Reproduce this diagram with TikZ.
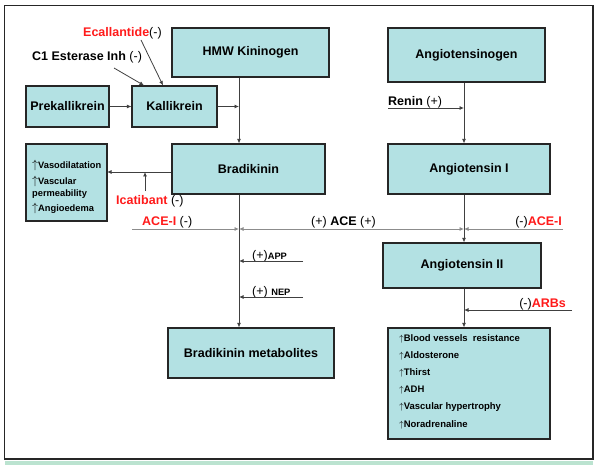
\documentclass[tikz,border=0pt]{standalone}
\usepackage{fontspec}
\setmainfont{Liberation Sans}
\usepackage{tikz}
\usetikzlibrary{positioning,arrows.meta}
\definecolor{boxfill}{HTML}{B3E1E3}
\definecolor{stripfill}{HTML}{BBE3D0}
\definecolor{inhred}{HTML}{FF1A1A}
\tikzset{
box/.style={rectangle, draw=black!85, line width=1.1pt, fill=boxfill, inner sep=0pt, font=\bfseries\fontsize{12.5}{15}\selectfont},
effect/.style={rectangle, draw=black!85, line width=1.1pt, fill=boxfill, inner sep=0pt},
lbl/.style={inner sep=0pt, font=\bfseries\fontsize{12.5}{15}\selectfont},
connect/.style={->, >={Latex[length=4.5pt,width=4pt]}, line width=0.8pt, draw=black!75},
aceline/.style={connect, draw=black!45}
}
\newcommand{\inh}[1]{\textcolor{inhred}{#1}}
\newcommand{\sgn}[1]{{\mdseries(#1)}}
\newcommand{\incr}{$\uparrow$}

\begin{document}
\begin{tikzpicture}[x=1pt,y=-1pt]
        \useasboundingbox (0,0) rectangle (599,465);
        \fill[stripfill] (5,461) rectangle (593,465);
        \draw[line width=1.6pt, black!85] (4.5,5.7) rectangle (593,459);

        % kinin side
        \node[box, minimum width=157pt, minimum height=49pt] (hmw) at (250.5,52.5) {HMW Kininogen};
        \node[box, minimum width=83pt, minimum height=41pt] (prekal) at (67.5,106.5) {Prekallikrein};
        \node[box, minimum width=85pt, minimum height=41pt] (kal) at (174.5,106.5) {Kallikrein};
        \node[box, minimum width=153pt, minimum height=50pt] (bk) at (248.5,169) {Bradikinin};
        \node[box, minimum width=166pt, minimum height=50pt] (bkmet) at (251,353) {Bradikinin metabolites};
        \node[effect, minimum width=81pt, minimum height=77pt] (bkeff) at (66.5,182.5) {};
        \node[anchor=north west, inner sep=0pt, align=left, font=\bfseries\fontsize{9.3}{12}\selectfont] (bkefftxt) at (32,159.5)
            {{\fontsize{12}{12}\selectfont\incr}Vasodilatation\\[4pt]
             {\fontsize{12}{12}\selectfont\incr}Vascular\\
             permeability\\[3pt]
             {\fontsize{12}{12}\selectfont\incr}Angioedema};

        % angiotensin side
        \node[box, minimum width=157pt, minimum height=54pt] (agen) at (466.5,55) {Angiotensinogen};
        \node[box, minimum width=162pt, minimum height=50pt] (ang1) at (469,169) {Angiotensin I};
        \node[box, minimum width=158pt, minimum height=45pt] (ang2) at (462,265.5) {Angiotensin II};
        \node[effect, minimum width=162pt, minimum height=111pt] (angeff) at (469,383.5) {};
        \node[anchor=north west, inner sep=0pt, align=left, font=\bfseries\fontsize{9.5}{17.2}\selectfont] (angefftxt) at (399,334)
            {\incr Blood vessels\ \ resistance\\
             \incr Aldosterone\\
             \incr Thirst\\
             \incr ADH\\
             \incr Vascular hypertrophy\\
             \incr Noradrenaline};

        % labels
        \node[lbl, anchor=west] (ecal) at (83,33) {\inh{Ecallantide}\sgn{-}};
        \node[lbl, anchor=west] (c1) at (32,57) {C1 Esterase Inh \sgn{-}};
        \node[lbl, anchor=west] (icat) at (116,201) {\inh{Icatibant} \sgn{-}};
        \node[lbl, anchor=west] (acei) at (142,222) {\inh{ACE-I} \sgn{-}};
        \node[lbl, anchor=west] (ace) at (311,222) {\sgn{+} ACE \sgn{+}};
        \node[lbl, anchor=east] (aceir) at (562,222) {\sgn{-}\inh{ACE-I}};
        \node[lbl, anchor=west] (renin) at (388,102) {Renin \sgn{+}};
        \node[lbl, anchor=east] (arb) at (566,304) {\sgn{-}\inh{ARBs}};
        \node[lbl, anchor=west] (app) at (252,256) {\sgn{+}{\fontsize{9.3}{12}\selectfont APP}};
        \node[lbl, anchor=west] (nep) at (252,292) {\sgn{+} {\fontsize{9.3}{12}\selectfont NEP}};

        \coordinate (bkx) at (239,229);
        \coordinate (atx) at (464,229);
        \coordinate (acel) at (132,229);
        \coordinate (acer) at (563,229);
        \coordinate (c1s) at (114,68);
        \coordinate (ecs) at (141,40);
        \coordinate (ics) at (145,191);
        \coordinate (bkin) at (107,172);
        \coordinate (apps) at (303,261);
        \coordinate (neps) at (303,297);
        \coordinate (rens) at (388,108);
        \coordinate (arbs) at (572,310);

        \draw[connect](prekal.east) to (kal.west);
        \draw[connect](c1s) to ([xshift=-30.5pt]kal.north);
        \draw[connect](ecs) to ([xshift=-11.5pt]kal.north);
        \draw[connect](kal.east) to (kal.east -| bkx);
        \draw[connect](hmw.south -| bkx) to (bk.north -| bkx);
        \draw[connect](bk.south -| bkx) to (bkmet.north -| bkx);
        \draw[connect]([yshift=-3pt]bk.west) to (bkin);
        \draw[connect](ics) to (ics |- bkin);
        \draw[aceline](acel) to (bkx);
        \draw[aceline,<->](bkx) to (atx);
        \draw[aceline](acer) to (atx);
        \draw[connect](apps) to (apps -| bkx);
        \draw[connect](neps) to (neps -| bkx);

        \draw[connect](agen.south -| atx) to (ang1.north -| atx);
        \draw[connect](rens) to (rens -| atx);
        \draw[connect](ang1.south -| atx) to (ang2.north -| atx);
        \draw[connect](ang2.south -| atx) to (angeff.north -| atx);
        \draw[connect](arbs) to (arbs -| atx);
    \end{tikzpicture}
\end{document}
